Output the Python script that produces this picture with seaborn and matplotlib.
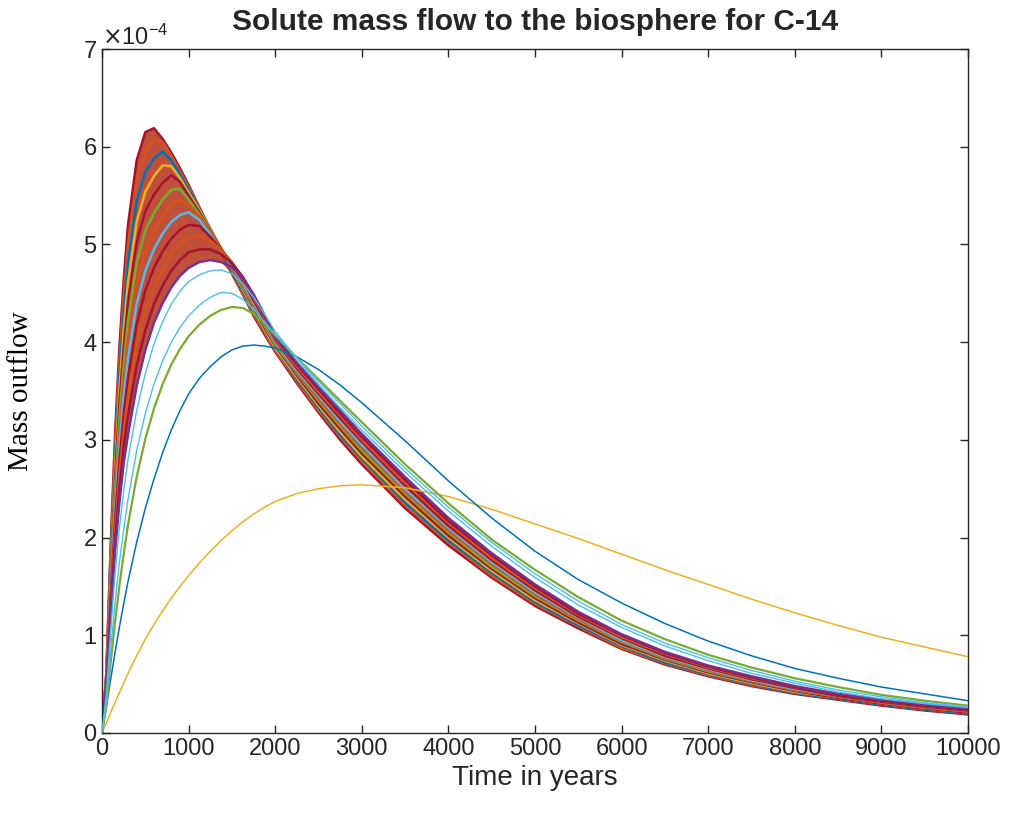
import numpy as np
import matplotlib
matplotlib.use("Agg")
import matplotlib.pyplot as plt
import seaborn as sns

# time axis shared by every run (years)
years = [0, 50, 100, 150, 200, 250, 300, 400, 500, 600, 700, 800, 900, 1000,
         1125, 1250, 1375, 1500, 1625, 1750, 1875, 2000,
         2250, 2500, 2750, 3000,
         3500, 4000, 4500, 5000, 5500, 6000, 6500, 7000, 7500, 8000, 8500, 9000, 9500, 10000]

# mass outflow, in units of 1e-4
# the dense bundle of runs, from the highest peak down to the lowest
band_01 = [0, 0.62, 1.92, 3.04, 3.94, 4.63, 5.20, 5.86, 6.15, 6.19, 6.08, 5.94, 5.78, 5.61,
           5.38, 5.15, 4.93, 4.70, 4.49, 4.27, 4.08, 3.90, 3.58, 3.28, 3.00, 2.75,
           2.30, 1.92, 1.59, 1.30, 1.07, 0.86, 0.70, 0.58, 0.48, 0.40, 0.34, 0.28, 0.23, 0.19]
band_02 = [0, 0.60, 1.85, 2.93, 3.80, 4.47, 5.00, 5.65, 5.95, 6.07, 6.05, 5.91, 5.75, 5.59,
           5.38, 5.16, 4.94, 4.72, 4.50, 4.29, 4.10, 3.91, 3.60, 3.30, 3.03, 2.78,
           2.33, 1.95, 1.61, 1.32, 1.09, 0.87, 0.71, 0.59, 0.49, 0.41, 0.35, 0.29, 0.24, 0.20]
band_03 = [0, 0.59, 1.79, 2.82, 3.65, 4.30, 4.81, 5.44, 5.74, 5.88, 5.95, 5.86, 5.72, 5.56,
           5.36, 5.16, 4.95, 4.73, 4.52, 4.31, 4.12, 3.93, 3.62, 3.33, 3.05, 2.81,
           2.36, 1.97, 1.64, 1.34, 1.10, 0.89, 0.72, 0.60, 0.50, 0.41, 0.35, 0.29, 0.24, 0.20]
band_04 = [0, 0.57, 1.72, 2.72, 3.51, 4.13, 4.61, 5.23, 5.54, 5.70, 5.81, 5.80, 5.68, 5.53,
           5.35, 5.16, 4.96, 4.75, 4.54, 4.33, 4.13, 3.94, 3.64, 3.35, 3.08, 2.83,
           2.39, 2.00, 1.66, 1.36, 1.12, 0.90, 0.74, 0.61, 0.51, 0.42, 0.36, 0.30, 0.25, 0.21]
band_05 = [0, 0.56, 1.66, 2.61, 3.36, 3.95, 4.42, 5.02, 5.34, 5.51, 5.63, 5.71, 5.64, 5.50,
           5.33, 5.15, 4.96, 4.76, 4.56, 4.35, 4.15, 3.96, 3.66, 3.37, 3.11, 2.86,
           2.42, 2.02, 1.68, 1.38, 1.13, 0.91, 0.75, 0.62, 0.52, 0.43, 0.36, 0.30, 0.25, 0.21]
band_06 = [0, 0.54, 1.59, 2.50, 3.22, 3.78, 4.22, 4.81, 5.14, 5.32, 5.46, 5.56, 5.57, 5.46,
           5.31, 5.14, 4.96, 4.77, 4.57, 4.37, 4.17, 3.97, 3.68, 3.40, 3.14, 2.89,
           2.45, 2.05, 1.70, 1.40, 1.15, 0.93, 0.76, 0.63, 0.53, 0.44, 0.37, 0.31, 0.26, 0.22]
band_07 = [0, 0.53, 1.53, 2.39, 3.07, 3.61, 4.03, 4.60, 4.93, 5.14, 5.28, 5.41, 5.45, 5.41,
           5.29, 5.13, 4.96, 4.78, 4.59, 4.39, 4.19, 3.99, 3.69, 3.42, 3.16, 2.92,
           2.47, 2.07, 1.73, 1.42, 1.16, 0.94, 0.77, 0.64, 0.53, 0.44, 0.37, 0.31, 0.26, 0.22]
band_08 = [0, 0.51, 1.46, 2.28, 2.93, 3.44, 3.83, 4.39, 4.73, 4.95, 5.11, 5.23, 5.30, 5.33,
           5.25, 5.10, 4.94, 4.79, 4.61, 4.41, 4.21, 4.00, 3.71, 3.45, 3.19, 2.95,
           2.50, 2.10, 1.75, 1.44, 1.18, 0.95, 0.78, 0.65, 0.54, 0.45, 0.38, 0.32, 0.27, 0.23]
band_09 = [0, 0.50, 1.40, 2.17, 2.78, 3.27, 3.64, 4.18, 4.53, 4.76, 4.93, 5.06, 5.15, 5.20,
           5.19, 5.08, 4.95, 4.80, 4.63, 4.43, 4.23, 4.02, 3.73, 3.47, 3.22, 2.98,
           2.53, 2.12, 1.77, 1.46, 1.19, 0.97, 0.79, 0.66, 0.55, 0.46, 0.38, 0.32, 0.27, 0.23]
band_10 = [0, 0.48, 1.33, 2.07, 2.64, 3.10, 3.44, 3.97, 4.33, 4.57, 4.75, 4.90, 5.00, 5.06,
           5.09, 5.04, 4.95, 4.82, 4.65, 4.46, 4.25, 4.03, 3.75, 3.49, 3.25, 3.00,
           2.56, 2.15, 1.79, 1.48, 1.21, 0.98, 0.81, 0.67, 0.56, 0.47, 0.39, 0.33, 0.28, 0.24]
band_11 = [0, 0.47, 1.27, 1.96, 2.49, 2.93, 3.25, 3.76, 4.12, 4.39, 4.58, 4.73, 4.84, 4.92,
           4.95, 4.95, 4.90, 4.81, 4.67, 4.48, 4.27, 4.05, 3.77, 3.52, 3.27, 3.03,
           2.59, 2.17, 1.82, 1.50, 1.22, 1.00, 0.82, 0.68, 0.57, 0.47, 0.39, 0.33, 0.28, 0.24]
band_12 = [0, 0.45, 1.20, 1.85, 2.35, 2.76, 3.05, 3.55, 3.92, 4.20, 4.40, 4.56, 4.68, 4.76,
           4.82, 4.84, 4.82, 4.77, 4.66, 4.49, 4.28, 4.06, 3.79, 3.54, 3.30, 3.06,
           2.62, 2.20, 1.84, 1.52, 1.24, 1.01, 0.83, 0.69, 0.58, 0.48, 0.40, 0.34, 0.29, 0.25]

# the few runs that stand apart from the bundle
cyan_a = [0, 0.40, 1.05, 1.62, 2.09, 2.47, 2.80, 3.30, 3.68, 3.98, 4.21, 4.39, 4.52, 4.62,
          4.69, 4.73, 4.74, 4.70, 4.60, 4.46, 4.29, 4.11, 3.83, 3.57, 3.33, 3.10,
          2.67, 2.27, 1.91, 1.59, 1.31, 1.08, 0.89, 0.74, 0.61, 0.51, 0.42, 0.35, 0.30, 0.26]
cyan_b = [0, 0.33, 0.85, 1.33, 1.74, 2.08, 2.39, 2.89, 3.27, 3.57, 3.81, 4.00, 4.15, 4.27,
          4.38, 4.46, 4.51, 4.50, 4.44, 4.34, 4.21, 4.08, 3.84, 3.60, 3.37, 3.14,
          2.71, 2.31, 1.95, 1.63, 1.35, 1.11, 0.92, 0.77, 0.64, 0.53, 0.44, 0.37, 0.31, 0.27]
green = [0, 0.28, 0.72, 1.13, 1.50, 1.83, 2.13, 2.62, 3.01, 3.32, 3.57, 3.77, 3.93, 4.06,
         4.18, 4.27, 4.33, 4.36, 4.35, 4.29, 4.19, 4.07, 3.84, 3.62, 3.40, 3.18,
         2.75, 2.35, 1.98, 1.67, 1.39, 1.15, 0.96, 0.80, 0.67, 0.56, 0.47, 0.39, 0.33, 0.28]
blue = [0, 0.27, 0.55, 0.82, 1.08, 1.32, 1.55, 1.95, 2.30, 2.60, 2.87, 3.10, 3.30, 3.47,
        3.63, 3.75, 3.85, 3.92, 3.96, 3.97, 3.96, 3.94, 3.85, 3.72, 3.56, 3.38,
        2.99, 2.58, 2.20, 1.86, 1.57, 1.33, 1.12, 0.94, 0.79, 0.66, 0.56, 0.47, 0.40, 0.33]
yellow = [0, 0.10, 0.21, 0.31, 0.41, 0.51, 0.61, 0.79, 0.96, 1.11, 1.25, 1.38, 1.50, 1.61,
          1.74, 1.86, 1.97, 2.07, 2.16, 2.24, 2.31, 2.37, 2.45, 2.50, 2.53, 2.54,
          2.51, 2.42, 2.29, 2.14, 1.99, 1.83, 1.67, 1.52, 1.37, 1.23, 1.10, 0.98, 0.88, 0.78]

xticks = list(range(0, 10001, 1000))
yticks = [0, 1, 2, 3, 4, 5, 6, 7]

# matlab default colour order
mblue, morange, myellow, mpurple, mgreen, mcyan, mred = (
    "#0072BD", "#D95319", "#EDB120", "#7E2F8E", "#77AC30", "#4DBEEE", "#A2142F")

band = [band_01, band_02, band_03, band_04, band_05, band_06,
        band_07, band_08, band_09, band_10, band_11, band_12]
band_colors = [mred, morange, mblue, myellow, mred, mgreen,
               morange, mcyan, mred, morange, mred, mpurple]

sns.set_style("ticks")
plt.rcParams['font.family'] = ['Liberation Sans', 'DejaVu Sans']

fig = plt.figure(figsize=(10.09, 8.27), dpi=100)
ax = fig.add_axes([0.1011, 0.1137, 0.8583, 0.827])

scale = 1e-4
band_arr = np.array(band) * scale
# the bundle is so dense in the original that it reads as a solid ribbon
ax.fill_between(years, band_arr.min(axis=0), band_arr.max(axis=0),
                color="#c0503a", linewidth=0, zorder=1)

for vals, col in zip(band, band_colors):
    sns.lineplot(x=years, y=np.array(vals) * scale, color=col,
                 linewidth=1.8, ax=ax, zorder=2)

for vals, col, lw in [(yellow, myellow, 1.1), (blue, mblue, 1.1),
                      (green, mgreen, 1.6), (cyan_b, mcyan, 1.0),
                      (cyan_a, mcyan, 1.0)]:
    sns.lineplot(x=years, y=np.array(vals) * scale, color=col,
                 linewidth=lw, ax=ax, zorder=3)

ax.set_xlim(0, 10000)
ax.set_ylim(0, 7 * scale)
ax.set_xticks(xticks)
ax.set_yticks([v * scale for v in yticks])
ax.ticklabel_format(axis='y', style='sci', scilimits=(-4, -4), useMathText=True)
ax.yaxis.get_offset_text().set_fontsize(17)
ax.yaxis.get_offset_text().set_color("#262626")

ax.tick_params(direction='in', top=True, right=True, length=6, width=1,
               colors="#262626", labelsize=17)
for sp in ax.spines.values():
    sp.set_color("#262626")
    sp.set_linewidth(1.0)

ax.set_title("Solute mass flow to the biosphere for C-14", fontsize=21.5,
             fontweight='bold', pad=14)
ax.set_xlabel("Time in years", fontsize=20, color="#262626")
ax.set_ylabel("Mass outflow", fontsize=21, family=['Liberation Serif'], color="black")
ax.yaxis.set_label_coords(-0.079, 0.5)

fig.savefig("out.png", dpi=100)
